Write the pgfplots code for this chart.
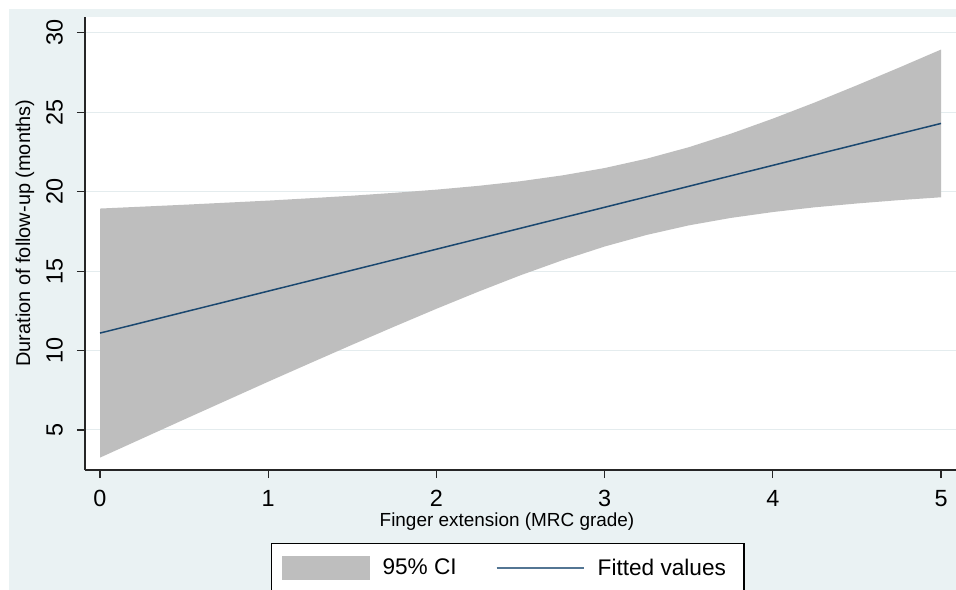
\documentclass[border=0pt]{standalone}
\usepackage{pgfplots}
\pgfplotsset{compat=1.18}
\usepackage{fontspec}
\setmainfont{Liberation Sans}
\definecolor{bgc}{HTML}{EAF2F3}
\definecolor{gridc}{HTML}{E4ECEE}
\definecolor{cigray}{HTML}{BEBEBE}
\definecolor{navyc}{HTML}{1A476F}
\begin{document}
\begin{tikzpicture}
\useasboundingbox (0,0) rectangle (956bp,590bp);
\fill[bgc] (9bp,0) rectangle (956bp,581bp);
\begin{axis}[
  at={(85bp,120bp)}, anchor=south west,
  scale only axis, width=871bp, height=453bp,
  xmin=-0.0892, xmax=5.089, ymin=2.48, ymax=31.0,
  axis lines*=left,
  axis line style={line width=1.2bp, black!85},
  axis background/.style={fill=white},
  xtick={0,1,2,3,4,5}, ytick={5,10,15,20,25,30},
  tick align=outside, major tick length=8bp,
  tick style={line width=1.2bp, black!85},
  ymajorgrids, grid style={gridc, line width=1bp},
  /pgf/number format/assume math mode=true,
  tick label style={font=\fontsize{23.5}{26}\selectfont},
  xticklabel style={anchor=north, inner sep=0pt},
  xticklabel shift=12bp,
  yticklabel style={rotate=90, anchor=south, inner sep=0pt},
  yticklabel shift=14bp,
  xlabel={Finger extension (MRC grade)},
  ylabel={Duration of follow-up (months)},
  xlabel style={at={(axis description cs:0.4845,-0.1258)}, anchor=base, font=\fontsize{19}{22}\selectfont},
  ylabel style={at={(axis description cs:-0.0631,0.523)}, anchor=base, font=\fontsize{20}{23}\selectfont},
  legend columns=2,
  legend style={
    at={(axis description cs:0.2135,-0.1611)}, anchor=north west,
    draw=black, line width=1.2bp, fill=white,
    font=\fontsize{22.7}{27}\selectfont,
    inner xsep=10bp, inner ysep=12bp,
    nodes={inner sep=0pt},
    /tikz/every odd column/.append style={column sep=13bp},
    /tikz/every even column/.append style={column sep=39bp},
  },
]
\addplot[fill=cigray, draw=none,
  legend image code/.code={\fill[cigray] (0bp,-12bp) rectangle (88bp,12bp);}]
  coordinates {
  (0,18.94) (0.25,19.06) (0.5,19.18) (0.75,19.31) (1,19.44) (1.25,19.59)
  (1.5,19.75) (1.75,19.93) (2,20.13) (2.25,20.37) (2.5,20.66) (2.75,21.03)
  (3,21.49) (3.25,22.08) (3.5,22.80) (3.75,23.65) (4,24.60) (4.25,25.62)
  (4.5,26.70) (4.75,27.81) (5,28.95)
  (5,19.65) (4.75,19.47) (4.5,19.26) (4.25,19.02) (4,18.72) (3.75,18.35)
  (3.5,17.88) (3.25,17.28) (3,16.55) (2.75,15.69) (2.5,14.74) (2.25,13.71)
  (2,12.63) (1.75,11.51) (1.5,10.37) (1.25,9.21) (1,8.04) (0.75,6.85)
  (0.5,5.66) (0.25,4.46) (0,3.26)
  } -- cycle;
\addlegendentry{95\% CI}
\addplot[navyc, line width=1.5bp, no marks,
  legend image code/.code={\draw[navyc!75!white, line width=2bp] (0bp,0bp) -- (87bp,0bp);}]
  coordinates {(0,11.10) (1,13.74) (2,16.38) (3,19.02) (4,21.66) (5,24.30)};
\addlegendentry{Fitted values\kern8bp}
\end{axis}
\end{tikzpicture}
\end{document}
